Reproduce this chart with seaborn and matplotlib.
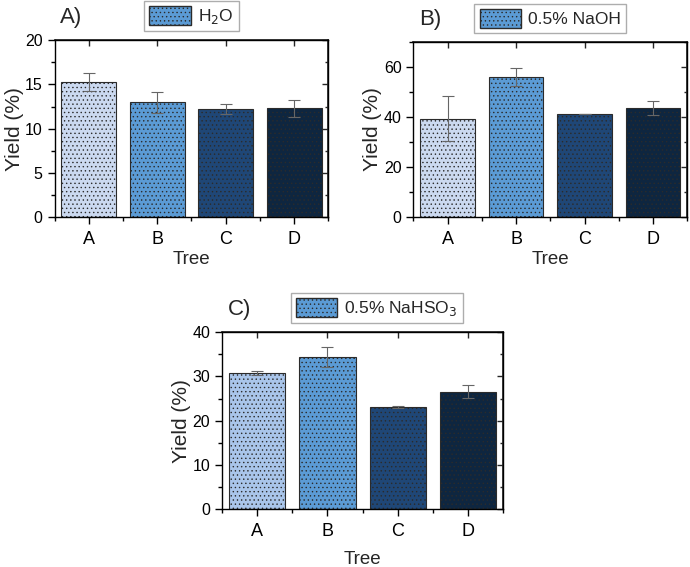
import numpy as np
import pandas as pd
import seaborn as sns
import matplotlib.pyplot as plt
from matplotlib.patches import Patch
from matplotlib.ticker import MultipleLocator

sns.set_theme(style="ticks")
plt.rcParams['font.family'] = ['Liberation Sans', 'DejaVu Sans']
plt.rcParams['hatch.linewidth'] = 0.5

trees = ['A', 'B', 'C', 'D']

h2o_yield = [15.3, 13.0, 12.25, 12.3]
h2o_err = [1.0, 1.2, 0.6, 0.95]

naoh_yield = [39.3, 56.1, 41.2, 43.7]
naoh_err = [9.0, 3.5, 0.1, 2.7]

nahso3_yield = [30.8, 34.4, 23.1, 26.6]
nahso3_err = [0.5, 2.3, 0.2, 1.5]

colors_ab = ['#cbd9f0', '#5b9bd5', '#1f4777', '#0e2640']
colors_c = ['#a9c5ea', '#5b9bd5', '#1f4777', '#0e2640']

fig = plt.figure(figsize=(6.9, 5.67), dpi=100)


def panel(rect, vals, errs, colors, ymax, major, minor, tag, leg_label,
          leg_x=0.5, xpad=2):
    ax = fig.add_axes(rect)
    df = pd.DataFrame({'Tree': trees, 'Yield': vals})
    sns.barplot(data=df, x='Tree', y='Yield', hue='Tree', palette=colors,
                saturation=1, legend=False, width=0.8, edgecolor='#2b2b2b',
                linewidth=0.8, hatch='....', ax=ax)
    ax.errorbar(range(len(trees)), vals, yerr=errs, fmt='none', ecolor='#666666',
                elinewidth=0.8, capsize=4, capthick=0.8)
    ax.set_xlim(-0.5, 3.5)
    ax.set_ylim(0, ymax)
    ax.yaxis.set_major_locator(MultipleLocator(major))
    ax.yaxis.set_minor_locator(MultipleLocator(minor))
    ax.set_xticks(range(4))
    ax.set_xticks(np.arange(-0.5, 4, 1), minor=True)
    ax.tick_params(axis='both', which='major', direction='out', length=5,
                   width=1, color='black', labelcolor='black')
    ax.tick_params(axis='x', which='major', labelsize=13, pad=5)
    ax.tick_params(axis='y', which='major', labelsize=11.5)
    ax.tick_params(axis='both', which='minor', direction='out', length=3,
                   width=1, color='black')
    # inward ticks on top/right
    ax2 = ax.secondary_yaxis('right')
    ax2.yaxis.set_major_locator(MultipleLocator(major))
    ax2.yaxis.set_minor_locator(MultipleLocator(minor))
    ax2.tick_params(which='both', direction='in', labelright=False, length=4, width=1)
    ax2.tick_params(which='minor', length=2.5)
    ax3 = ax.secondary_xaxis('top')
    ax3.set_xticks(range(4))
    ax3.tick_params(direction='in', labeltop=False, length=4, width=1)
    for s in ax.spines.values():
        s.set_color('black')
        s.set_linewidth(1)
    ax.set_xlabel('Tree', fontsize=13.5, labelpad=xpad)
    ax.set_ylabel('Yield (%)', fontsize=15, labelpad=1)
    ax.text(0.02, 1.13, tag, transform=ax.transAxes, fontsize=16, ha='left', va='center')
    handle = Patch(facecolor='#5b9bd5', edgecolor='#2b2b2b', hatch='....', label=leg_label)
    leg = ax.legend(handles=[handle], loc='lower center', bbox_to_anchor=(leg_x, 1.05),
                    fontsize=12.5, frameon=True, fancybox=False, handlelength=2.4,
                    handleheight=1.3, borderpad=0.3, handletextpad=0.4,
                    borderaxespad=0)
    leg.get_frame().set_edgecolor('#999999')
    leg.get_frame().set_linewidth(1)
    return ax


panel([0.079, 0.617, 0.397, 0.312], h2o_yield, h2o_err, colors_ab, 20, 5, 2.5,
      'A)', 'H$_2$O')
panel([0.599, 0.617, 0.397, 0.309], naoh_yield, naoh_err, colors_ab, 70, 20, 10,
      'B)', '0.5% NaOH')
panel([0.322, 0.102, 0.407, 0.312], nahso3_yield, nahso3_err, colors_c, 40, 10, 5,
      'C)', '0.5% NaHSO$_3$', leg_x=0.55, xpad=8)

fig.savefig('out.png', dpi=100)
